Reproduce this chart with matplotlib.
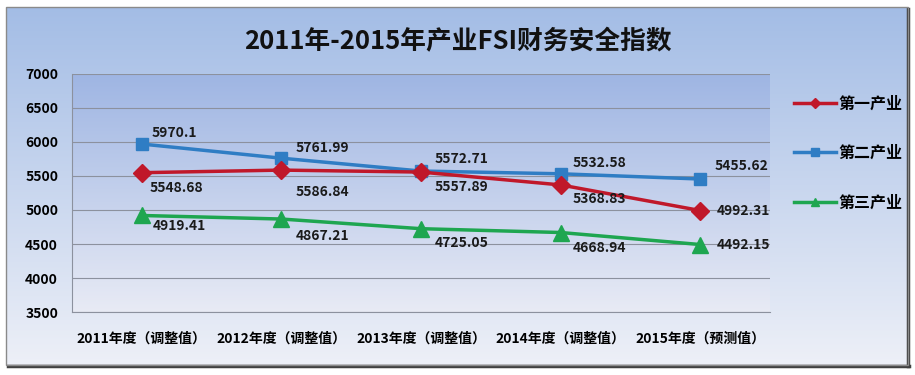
import numpy as np
import matplotlib
matplotlib.use("Agg")
import matplotlib.pyplot as plt
from matplotlib.patches import Rectangle
from matplotlib.lines import Line2D

plt.rcParams['font.family'] = ['Noto Sans CJK SC', 'DejaVu Sans']

title = "2011年-2015年产业FSI财务安全指数"
categories = ["2011年度（调整值）", "2012年度（调整值）", "2013年度（调整值）",
              "2014年度（调整值）", "2015年度（预测值）"]
series_names = ["第一产业", "第二产业", "第三产业"]
primary = [5548.68, 5586.84, 5557.89, 5368.83, 4992.31]
secondary = [5970.1, 5761.99, 5572.71, 5532.58, 5455.62]
tertiary = [4919.41, 4867.21, 4725.05, 4668.94, 4492.15]
yticks = [3500, 4000, 4500, 5000, 5500, 6000, 6500, 7000]

W, H = 915, 375
fig = plt.figure(figsize=(W / 100, H / 100), dpi=100)
fig.patch.set_facecolor('white')

# figure background gradient (chart area)
bg = fig.add_axes([6 / W, 1 - 365 / H, 902 / W, 358 / H], zorder=0)
grad = np.linspace(0, 1, 256).reshape(-1, 1)
top = np.array([0.64, 0.74, 0.90])
bot = np.array([0.93, 0.94, 0.97])
img = top[None, None, :] * (1 - grad[:, :, None]) + bot[None, None, :] * grad[:, :, None]
bg.imshow(img, aspect='auto', extent=[0, 1, 0, 1], interpolation='bilinear')
bg.set_xlim(0, 1); bg.set_ylim(0, 1)
bg.axis('off')
# border + shadow
fig.patches.append(Rectangle((6 / W, 1 - 365 / H), 902 / W, 358 / H, transform=fig.transFigure,
                             fill=False, edgecolor='#8a8a8a', linewidth=1.0, zorder=1))
fig.lines.append(Line2D([908 / W, 908 / W], [1 - 366 / H, 1 - 9 / H], transform=fig.transFigure,
                        color='#404040', linewidth=2.5, zorder=1))
fig.lines.append(Line2D([8 / W, 909 / W], [1 - 366 / H, 1 - 366 / H], transform=fig.transFigure,
                        color='#404040', linewidth=2.5, zorder=1))

ax = fig.add_axes([72 / W, 1 - 312 / H, 698 / W, 238 / H], zorder=2)
ptop = np.array([0.62, 0.71, 0.89])
pbot = np.array([0.91, 0.92, 0.96])
pimg = ptop[None, None, :] * (1 - grad[:, :, None]) + pbot[None, None, :] * grad[:, :, None]
x = np.arange(len(categories))
ax.imshow(pimg, aspect='auto', extent=[-0.5, len(categories) - 0.5, 3500, 7000],
          interpolation='bilinear', zorder=0)
ax.set_xlim(-0.5, len(categories) - 0.5)
ax.set_ylim(3500, 7000)
ax.set_yticks(yticks)
ax.set_yticklabels([str(v) for v in yticks], fontsize=10, fontweight='bold')
ax.set_xticks(x)
ax.set_xticklabels(categories, fontsize=10, fontweight='bold')
ax.tick_params(axis='both', length=0, pad=10)
ax.tick_params(axis='x', pad=14)
ax.grid(axis='y', color='#8c919e', linewidth=0.8, zorder=1)
for s in ['top', 'right']:
    ax.spines[s].set_visible(False)
for s in ['left', 'bottom']:
    ax.spines[s].set_color('#8c919e')
    ax.spines[s].set_linewidth(0.8)

red = '#c0182a'
blue = '#2f7dc4'
green = '#1ea650'

ax.plot(x, primary, color=red, linewidth=2.5, marker='D', markersize=9, zorder=4, label=series_names[0])
ax.plot(x, secondary, color=blue, linewidth=2.5, marker='s', markersize=9, zorder=3, label=series_names[1])
ax.plot(x, tertiary, color=green, linewidth=2.5, marker='^', markersize=11, zorder=3, label=series_names[2])

px = 72 / 100  # points per pixel
def lab(vals, offs):
    for i, v in enumerate(vals):
        dx, dy = offs[i]
        ax.annotate(f"{v:g}", (x[i], v), xytext=(dx * px, dy * px), textcoords='offset points',
                    ha='left', va='center', fontsize=10, fontweight='bold', color='#1a1a1a', zorder=6)

lab(secondary, [(10, 11), (14, 10), (14, 12), (12, 11), (14, 13)])
lab(primary, [(8, -15), (14, -22), (14, -15), (12, -14), (17, 0)])
lab(tertiary, [(11, -11), (14, -17), (14, -14), (12, -15), (17, 0)])

handles = [
    Line2D([], [], color=red, linewidth=2.5, marker='D', markersize=5),
    Line2D([], [], color=blue, linewidth=2.5, marker='s', markersize=6),
    Line2D([], [], color=green, linewidth=2.5, marker='^', markersize=6),
]
leg = fig.legend(handles, series_names, loc='center left', bbox_to_anchor=(780 / W, 1 - 153 / H),
                 frameon=False, handlelength=2.6, handletextpad=0.15, labelspacing=2.1,
                 prop={'weight': 'bold', 'size': 11.5})

fig.text(458 / W, 1 - 42 / H, title, ha='center', va='center', fontsize=18.5, fontweight='bold', color='#111111')

fig.savefig('out.png', dpi=100)
